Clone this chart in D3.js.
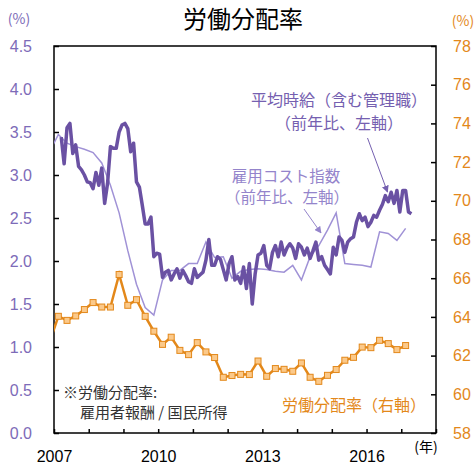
<!DOCTYPE html>
<html>
<head>
  <meta charset="utf-8">
  <title>労働分配率</title>
  <style>
    body { margin: 0; background: #fff; }
    svg { font-family: "Noto Sans CJK JP", "Noto Sans", sans-serif; }
    .frame { fill: none; stroke: #000; stroke-width: 1.5px; }
    .axis path { display: none; }
    .axis line { stroke: #000; stroke-width: 1.5px; }
  </style>
</head>
<body>
  <svg id="chart"></svg>

  <script src="https://d3js.org/d3.v7.min.js"></script>
  <script>
    // Data
    // 平均時給 (前年比, %), monthly from 2007-03
    var wageFirstMonth = 3;
    var wageValues = [
      3.44, 3.13, 3.55, 3.60, 3.25, 3.35, 3.10, 3.06, 3.00, 2.92,
      2.91, 2.84, 3.03, 2.88, 3.08, 2.67, 2.90, 3.33, 3.31, 3.31,
      3.50, 3.58, 3.60, 3.54, 3.27, 3.37, 2.92, 2.86, 2.65, 2.43,
      2.43, 2.51, 2.05, 2.09, 2.08, 1.81, 1.87, 1.89, 1.78, 1.85,
      1.91, 1.80, 1.89, 1.83, 1.76, 1.74, 1.91, 1.81, 1.84, 1.87,
      2.01, 2.25, 1.95, 1.95, 2.05, 2.02, 1.90, 1.78, 1.97, 2.05,
      1.78, 1.82, 1.74, 1.93, 1.68, 1.97, 1.50, 1.85, 2.07, 2.09,
      2.18, 1.95, 1.91, 2.10, 2.18, 2.05, 2.22, 2.07, 2.15, 2.20,
      2.15, 2.03, 2.20, 2.16, 2.07, 2.15, 2.03, 2.12, 2.22, 2.01,
      2.05, 1.95, 1.90, 1.85, 2.16, 2.07, 2.28, 2.24, 2.10, 2.22,
      2.26, 2.28, 2.45, 2.55, 2.47, 2.51, 2.40, 2.45, 2.53, 2.51,
      2.59, 2.66, 2.76, 2.69, 2.80, 2.67, 2.82, 2.57, 2.82, 2.82,
      2.57, 2.55
    ];

    // 雇用コスト指数 (前年比, %), quarterly from 2006Q4
    var eciValues = [
      3.27, 3.47, 3.37, 3.33, 3.30, 3.26, 3.14, 2.88, 2.56, 2.12,
      1.73, 1.46, 1.37, 1.78, 1.89, 1.89, 1.97, 1.97, 2.22, 2.04,
      2.05, 1.80, 1.88, 1.90, 1.91, 1.90, 1.88, 1.87, 1.95, 1.78,
      2.05, 2.18, 2.36, 2.56, 1.97, 1.96, 1.95, 1.93, 2.34, 2.32,
      2.24, 2.38
    ];

    // 労働分配率 (%), quarterly from 2006Q4
    var shareValues = [
      62.70, 64.03, 63.82, 64.05, 64.38, 64.74, 64.51, 64.51, 66.19, 64.60,
      64.89, 64.03, 63.26, 62.58, 62.95, 62.27, 62.05, 62.67, 62.19, 61.90,
      60.88, 60.97, 61.03, 61.02, 61.72, 60.93, 61.33, 61.29, 61.19, 61.62,
      60.88, 60.67, 60.98, 61.28, 61.76, 61.91, 62.44, 62.41, 62.79, 62.62,
      62.31, 62.52
    ];

    var leftTicks = [0, 0.5, 1, 1.5, 2, 2.5, 3, 3.5, 4, 4.5];
    var rightTicks = [58, 60, 62, 64, 66, 68, 70, 72, 74, 76, 78];
    var yearTicks = d3.range(2007, 2019);
    var yearLabels = [2007, 2010, 2013, 2016];

    var width = 476;
    var height = 474;
    var margin = { top: 46, right: 40, bottom: 41, left: 54 };

    var purple = "#6a51a3";
    var lightPurple = "#a092d6";
    var labelPurple = "#7d6bb8";
    var orange = "#e3881a";

    var svg = d3.select("#chart")
      .attr("width", width)
      .attr("height", height);

    var x = d3.scaleLinear()
      .domain([2007, 2018])
      .range([margin.left, width - margin.right]);

    var yLeft = d3.scaleLinear()
      .domain([0, 4.5])
      .range([height - margin.bottom, margin.top]);

    var yRight = d3.scaleLinear()
      .domain([58, 78])
      .range([height - margin.bottom, margin.top]);

    svg.append("defs").append("clipPath")
      .attr("id", "plot-clip")
      .append("rect")
      .attr("x", margin.left)
      .attr("y", margin.top)
      .attr("width", width - margin.left - margin.right)
      .attr("height", height - margin.top - margin.bottom);

    // Axes
    svg.append("g")
      .attr("class", "axis")
      .attr("transform", "translate(" + margin.left + ",0)")
      .call(d3.axisLeft(yLeft).tickValues(leftTicks).tickSize(-5).tickPadding(22)
        .tickFormat(d3.format(".1f")))
      .selectAll("text")
      .attr("fill", labelPurple)
      .style("font-size", "16px");

    svg.append("g")
      .attr("class", "axis")
      .attr("transform", "translate(" + (width - margin.right) + ",0)")
      .call(d3.axisRight(yRight).tickValues(rightTicks).tickSize(-5).tickPadding(17))
      .selectAll("text")
      .attr("fill", orange)
      .style("font-size", "16px");

    svg.append("g")
      .attr("class", "axis")
      .attr("transform", "translate(0," + (height - margin.bottom) + ")")
      .call(d3.axisBottom(x).tickValues(yearTicks).tickSize(-4).tickPadding(18)
        .tickFormat(function(d) { return yearLabels.includes(d) ? d : ""; }))
      .selectAll("text")
      .attr("fill", "#000")
      .style("font-size", "16px");

    svg.append("rect")
      .attr("class", "frame")
      .attr("x", margin.left)
      .attr("y", margin.top)
      .attr("width", width - margin.left - margin.right)
      .attr("height", height - margin.top - margin.bottom);

    // Lines
    var plot = svg.append("g").attr("clip-path", "url(#plot-clip)");

    var wageLine = d3.line()
      .x(function(d, i) { return x(2007 + (wageFirstMonth - 0.5 + i) / 12); })
      .y(function(d) { return yLeft(d); });

    var quarterX = function(d, i) { return x(2007 + (i - 0.5) / 4); };

    var eciLine = d3.line()
      .x(quarterX)
      .y(function(d) { return yLeft(d); });

    var shareLine = d3.line()
      .x(quarterX)
      .y(function(d) { return yRight(d); });

    plot.append("path")
      .datum(eciValues)
      .attr("d", eciLine)
      .attr("fill", "none")
      .attr("stroke", lightPurple)
      .attr("stroke-width", 1.5);

    plot.append("path")
      .datum(wageValues)
      .attr("d", wageLine)
      .attr("fill", "none")
      .attr("stroke", purple)
      .attr("stroke-width", 3.5)
      .attr("stroke-linejoin", "round");

    plot.append("path")
      .datum(shareValues)
      .attr("d", shareLine)
      .attr("fill", "none")
      .attr("stroke", orange)
      .attr("stroke-width", 2.5);

    plot.selectAll(".marker")
      .data(shareValues)
      .enter().append("rect")
      .attr("class", "marker")
      .attr("x", function(d, i) { return quarterX(d, i) - 3; })
      .attr("y", function(d) { return yRight(d) - 3; })
      .attr("width", 6)
      .attr("height", 6)
      .attr("fill", "#fbc98a")
      .attr("stroke", orange)
      .attr("stroke-width", 1);

    // Texts
    svg.append("text")
      .attr("x", 243)
      .attr("y", 28)
      .attr("text-anchor", "middle")
      .style("font-size", "24px")
      .text("労働分配率");

    svg.append("text")
      .attr("x", 19)
      .attr("y", 24)
      .attr("text-anchor", "middle")
      .attr("fill", labelPurple)
      .style("font-size", "14px")
      .text("(%)");

    svg.append("text")
      .attr("x", 463)
      .attr("y", 26)
      .attr("text-anchor", "middle")
      .attr("fill", orange)
      .style("font-size", "14px")
      .text("(%)");

    svg.append("text")
      .attr("x", 426)
      .attr("y", 452)
      .attr("text-anchor", "middle")
      .style("font-size", "14px")
      .text("(年)");

    var wageLabel = svg.append("text")
      .attr("text-anchor", "middle")
      .attr("fill", "#7560b0")
      .style("font-size", "16px");
    wageLabel.append("tspan").attr("x", 339).attr("y", 106).text("平均時給（含む管理職）");
    wageLabel.append("tspan").attr("x", 339).attr("y", 129).text("（前年比、左軸）");

    var eciLabel = svg.append("text")
      .attr("text-anchor", "middle")
      .attr("fill", "#9484cb")
      .style("font-size", "15.5px");
    eciLabel.append("tspan").attr("x", 286).attr("y", 182).text("雇用コスト指数");
    eciLabel.append("tspan").attr("x", 287).attr("y", 203).text("（前年比、左軸）");

    svg.append("text")
      .attr("x", 354)
      .attr("y", 411)
      .attr("text-anchor", "middle")
      .attr("fill", orange)
      .style("font-size", "16px")
      .text("労働分配率（右軸）");

    var note = svg.append("text")
      .attr("fill", "#333")
      .style("font-size", "15px");
    note.append("tspan").attr("x", 63).attr("y", 398).text("※労働分配率:");
    note.append("tspan").attr("x", 80).attr("y", 418).text("雇用者報酬 / 国民所得");

    // Arrows
    var defs = svg.select("defs");
    [["arrow-dark", "#7560b0"], ["arrow-light", "#9484cb"]].forEach(function(a) {
      defs.append("marker")
        .attr("id", a[0])
        .attr("viewBox", "0 0 10 10")
        .attr("refX", 9)
        .attr("refY", 5)
        .attr("markerWidth", 7)
        .attr("markerHeight", 7)
        .attr("orient", "auto")
        .append("path")
        .attr("d", "M0,0L10,5L0,10z")
        .attr("fill", a[1]);
    });

    svg.append("line")
      .attr("x1", 367.5).attr("y1", 138)
      .attr("x2", 387.5).attr("y2", 192)
      .attr("stroke", "#7560b0")
      .attr("stroke-width", 1)
      .attr("marker-end", "url(#arrow-dark)");

    svg.append("line")
      .attr("x1", 304).attr("y1", 209)
      .attr("x2", 321).attr("y2", 233)
      .attr("stroke", "#9484cb")
      .attr("stroke-width", 1)
      .attr("marker-end", "url(#arrow-light)");
  </script>
</body>
</html>
